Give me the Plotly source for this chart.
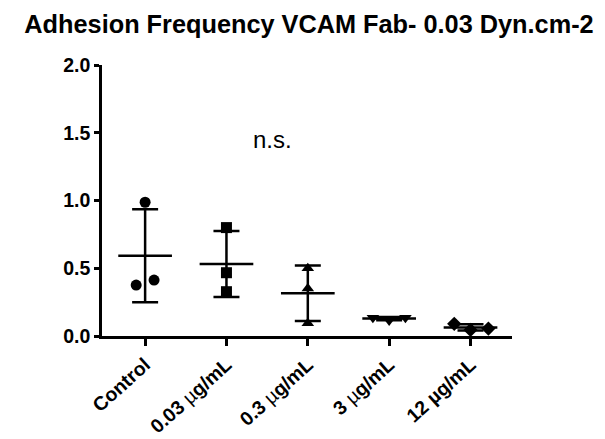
import numpy as np
import plotly.graph_objects as go

categories = ["Control", "0.03 µg/mL", "0.3 µg/mL", "3 µg/mL", "12 µg/mL"]
tick_labels = [
    "Control",
    "0.03 <span style='font-weight:normal'>µ</span>g/mL",
    "0.3 <span style='font-weight:normal'>µ</span>g/mL",
    "3 <span style='font-weight:normal'>µ</span>g/mL",
    "12 µg/mL",
]
y_ticks = [0, 0.5, 1.0, 1.5, 2.0]
control = [0.987, 0.376, 0.413]
fab_003 = [0.80, 0.467, 0.327]
fab_03 = [0.50, 0.35, 0.095]
fab_3 = [0.135, 0.115, 0.135]
fab_12 = [0.09, 0.045, 0.055]
groups = [control, fab_003, fab_03, fab_3, fab_12]

# horizontal scatter offsets of the individual points (category units)
jitter = [[0.0, -0.11, 0.11], [0, 0, 0], [0, 0, 0], [-0.2, 0.0, 0.2], [-0.2, 0.0, 0.22]]
symbols = ["circle", "square", "triangle-up", "triangle-down", "diamond"]

fig = go.Figure()
for i, (vals, sym) in enumerate(zip(groups, symbols)):
    xs = [i + d for d in jitter[i]]
    fig.add_trace(go.Scatter(
        x=xs, y=vals, mode="markers",
        marker=dict(symbol=sym, size=11, color="black"),
        cliponaxis=False, showlegend=False))
    m = float(np.mean(vals))
    sd = float(np.std(vals, ddof=1))
    fig.add_trace(go.Scatter(
        x=[i], y=[m], mode="markers",
        marker=dict(size=1, color="rgba(0,0,0,0)"),
        error_y=dict(type="data", array=[sd], symmetric=True, width=13,
                     thickness=2.5, color="black"),
        error_x=dict(type="data", array=[0.33], symmetric=True, width=0,
                     thickness=2.5, color="black"),
        cliponaxis=False, showlegend=False))

font_family = "Liberation Sans, Arial, sans-serif"
W, H = 597, 431  # page body has an 8px margin
fig.update_layout(
    width=W, height=H,
    margin=dict(l=94, r=93, t=57, b=103),
    paper_bgcolor="white", plot_bgcolor="white",
    title=dict(text="Adhesion Frequency VCAM Fab- 0.03 Dyn.cm-2",
               x=301 / W, xref="container", xanchor="center",
               y=1 - 16 / H, yref="container", yanchor="middle",
               font=dict(family=font_family, size=25.3, color="black", weight="bold")),
    xaxis=dict(range=[-0.53, 4.51], tickvals=list(range(len(categories))),
               ticktext=tick_labels, tickangle=-42, showgrid=False, zeroline=False,
               showline=True, linecolor="black", linewidth=2.5, automargin=False,
               ticks="outside", ticklen=7, tickwidth=2.5, tickcolor="black",
               tickfont=dict(family=font_family, size=19.5, color="black", weight="bold")),
    yaxis=dict(range=[0, 2.0], tickvals=y_ticks,
               tickformat=".1f", showgrid=False, zeroline=False,
               showline=True, linecolor="black", linewidth=2.5, automargin=False,
               ticks="outside", ticklen=5, tickwidth=2.5, tickcolor="black",
               tickfont=dict(family=font_family, size=19.5, color="black", weight="bold")),
    annotations=[dict(x=1.56, y=1.45, xref="x", yref="y", text="n.s.",
                      showarrow=False,
                      font=dict(family=font_family, size=24, color="black"))],
)

fig.write_html("out.html")
